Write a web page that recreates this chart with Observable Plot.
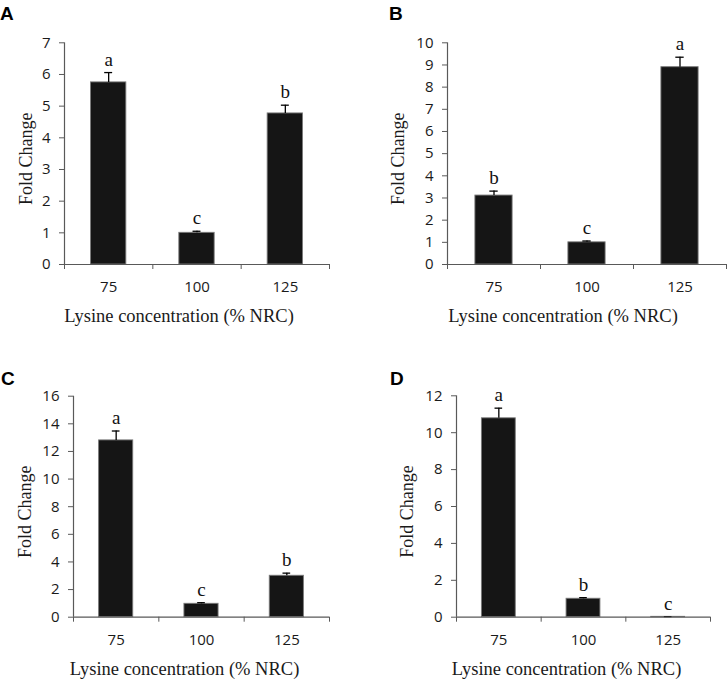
<!DOCTYPE html>
<html>
<head>
<meta charset="utf-8">
<script src="https://cdn.jsdelivr.net/npm/d3@7"></script>
<script src="https://cdn.jsdelivr.net/npm/@observablehq/plot@0.6"></script>
<style>
  body { margin: 0; background: #fff; }
  #root { position: relative; width: 727px; height: 680px; overflow: hidden; background: #fff; }
  .panel { position: absolute; }
  .tag { position: absolute; font: bold 19px "Liberation Sans", Arial, sans-serif; color: #000; line-height: 1.15; }
</style>
</head>
<body>
<div id="root"></div>
<script>
// ---- data ----
const categories = ["75", "100", "125"];
const xTitle = "Lysine concentration (% NRC)";
const yTitle = "Fold Change";

const panelNames = ["A", "B", "C", "D"];

const valuesA = [5.75, 1.0, 4.77];
const errorsA = [0.31, 0.05, 0.26];
const lettersA = ["a", "c", "b"];

const valuesB = [3.11, 1.0, 8.9];
const errorsB = [0.2, 0.06, 0.45];
const lettersB = ["b", "c", "a"];

const valuesC = [12.8, 0.97, 3.0];
const errorsC = [0.68, 0.08, 0.19];
const lettersC = ["a", "c", "b"];

const valuesD = [10.78, 1.0, 0.02];
const errorsD = [0.55, 0.06, 0.01];
const lettersD = ["a", "b", "c"];

const yMaxes = [7, 10, 16, 12];
const yStepSizes = [1, 1, 2, 2];

// ---- layout (pixels) ----
const layouts = [
  {left: 0,   top: 0,   width: 360, height: 330, mt: 42.3, mb: 66,   ml: 64,  mr: 31, yTitleDx: -38.7, xTitleDx: -18, tagLeft: 0,   tagTop: 3.4},
  {left: 360, top: 0,   width: 367, height: 330, mt: 42.3, mb: 66,   ml: 87,  mr: 1,  yTitleDx: -49,   xTitleDx: -24, tagLeft: 389, tagTop: 3.4},
  {left: 0,   top: 340, width: 360, height: 340, mt: 55.7, mb: 63.3, ml: 73,  mr: 31, yTitleDx: -48,   xTitleDx: -17, tagLeft: 1,   tagTop: 367.8},
  {left: 360, top: 340, width: 367, height: 340, mt: 55.3, mb: 63.3, ml: 96,  mr: 17, yTitleDx: -49.7, xTitleDx: -17, tagLeft: 390, tagTop: 367.8}
];

const seriesValues = [valuesA, valuesB, valuesC, valuesD];
const seriesErrors = [errorsA, errorsB, errorsC, errorsD];
const seriesLetters = [lettersA, lettersB, lettersC, lettersD];

const root = document.getElementById("root");
const axisColor = "#595959";
const serif = "'Liberation Serif', 'Times New Roman', serif";
const sans = "'Open Sans', sans-serif";

panelNames.forEach((name, p) => {
  const L = layouts[p];
  const n = categories.length;
  const data = categories.map((c, i) => ({
    i, cat: c, v: seriesValues[p][i], e: seriesErrors[p][i], lab: seriesLetters[p][i]
  }));
  const yTicks = d3.range(0, yMaxes[p] + 1e-9, yStepSizes[p]);

  const chart = Plot.plot({
    width: L.width,
    height: L.height,
    marginTop: L.mt,
    marginBottom: L.mb,
    marginLeft: L.ml,
    marginRight: L.mr,
    style: {background: "transparent", fontFamily: sans, fontSize: "15px", overflow: "visible", color: "#1a1a1a"},
    x: {domain: [0, n], axis: null},
    y: {domain: [0, yMaxes[p]], axis: null},
    marks: [
      Plot.rectY(data, {x1: d => d.i + 0.3, x2: d => d.i + 0.7, y1: 0, y2: "v", fill: "#151515", stroke: "#7a7a7a", strokeWidth: 0.9}),
      Plot.ruleX(data, {x: d => d.i + 0.5, y1: "v", y2: d => d.v + d.e, stroke: "#000", strokeWidth: 1.3}),
      Plot.ruleY(data, {y: d => d.v + d.e, x1: d => d.i + 0.5 - 0.045, x2: d => d.i + 0.5 + 0.045, stroke: "#000", strokeWidth: 1.3}),
      Plot.text(data, {x: d => d.i + 0.5, y: d => d.v + d.e, text: "lab", dy: -7, lineAnchor: "bottom", fontFamily: serif, fontSize: 19, fill: "#111"}),
      Plot.axisY({ticks: yTicks, tickSize: 5, tickPadding: 9, stroke: axisColor, fill: "#1a1a1a", label: null, tickFormat: d3.format("d"), fontFamily: sans, fontSize: 15}),
      Plot.axisX({ticks: d3.range(n + 1), tickSize: 5, tickFormat: () => "", stroke: axisColor, label: null}),
      Plot.axisX({ticks: categories.map((c, i) => i + 0.5), tickSize: 0, tickPadding: 17, tickFormat: d => categories[Math.floor(d)], fill: "#1a1a1a", label: null, fontFamily: sans, fontSize: 15}),
      Plot.ruleX([0], {stroke: axisColor, strokeWidth: 1.2}),
      Plot.ruleY([0], {stroke: axisColor, strokeWidth: 1.2}),
      Plot.text([yTitle], {frameAnchor: "left", textAnchor: "middle", lineAnchor: "middle", rotate: -90, dx: L.yTitleDx, dy: 5, fontFamily: serif, fontSize: 18, fill: "#1a1a1a"}),
      Plot.text([xTitle], {frameAnchor: "bottom", textAnchor: "middle", lineAnchor: "bottom", dx: L.xTitleDx, dy: 57.5, fontFamily: serif, fontSize: 18.5, fill: "#1a1a1a"})
    ]
  });
  chart.classList.add("panel");
  chart.style.left = L.left + "px";
  chart.style.top = L.top + "px";
  root.appendChild(chart);

  const tag = document.createElement("div");
  tag.className = "tag";
  tag.textContent = name;
  tag.style.left = L.tagLeft + "px";
  tag.style.top = L.tagTop + "px";
  root.appendChild(tag);
});
</script>
</body>
</html>
